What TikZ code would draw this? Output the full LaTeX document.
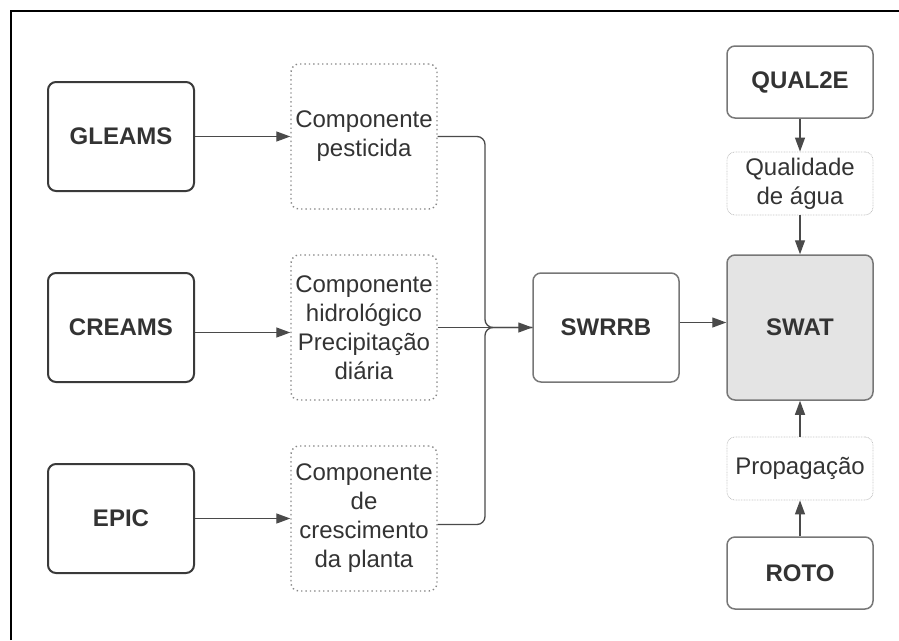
\documentclass[tikz,border=0pt]{standalone}
\usepackage{fontspec}
\setmainfont{Liberation Sans}
\usetikzlibrary{arrows.meta}
\definecolor{txtc}{HTML}{333333}
\definecolor{darkc}{HTML}{3A3A3A}
\definecolor{midc}{HTML}{777777}
\definecolor{dotc}{HTML}{888888}
\definecolor{lightc}{HTML}{C4C4C4}
\definecolor{swatc}{HTML}{E4E4E4}
\definecolor{edgec}{HTML}{4A4A4A}
\tikzset{
    modelo/.style = {rectangle, rounded corners=8pt, line width=2pt, draw=darkc, minimum width=146pt, minimum height=109pt, inner sep=0pt, align=center, text=txtc, font=\bfseries},
    modelor/.style = {modelo, line width=1.5pt, draw=midc},
    compo/.style = {rectangle, rounded corners=8pt, line width=1.4pt, draw=dotc, dash pattern=on 1.4pt off 3pt, minimum width=146pt, minimum height=145pt, inner sep=0pt, align=center, text=txtc},
    compol/.style = {compo, line width=0.8pt, draw=lightc, dash pattern=on 0.8pt off 0.8pt, minimum height=63pt},
    edgen/.style = {-{Triangle[length=14pt,width=10pt]}, line width=1.3pt, draw=edgec},
    edgem/.style = {line width=1.3pt, draw=edgec, rounded corners=8pt},
    every picture/.style={font issue=\fontsize{24}{29}},
    font issue/.style={execute at begin picture={#1\selectfont}}
}
\begin{document}
\begin{tikzpicture}[x=1pt,y=-1pt]
\useasboundingbox (0,0) rectangle (899,640);
\draw[line width=2pt,black] (11,640) -- (11,11) -- (899,11);
%
\node[modelo] at (121,136.5) (gleams) {GLEAMS};
\node[modelo] at (121,327.5) (creams) {CREAMS};
\node[modelo] at (121,518.5) (epic) {EPIC};
\node[compo] at (364,136.5) (pest) {Componente\\pesticida};
\node[compo] at (364,327.5) (hidro) {Componente\\hidrológico\\Precipitação\\diária};
\node[compo] at (364,518.5) (cresc) {Componente\\de\\crescimento\\da planta};
\node[modelor] at (606,327.5) (swrrb) {SWRRB};
\node[modelor, fill=swatc, minimum height=145pt] at (800,327.5) (swat) {SWAT};
\node[modelor, minimum height=72pt] at (800,82) (qual) {QUAL2E};
\node[compol] at (800,183.5) (qualag) {Qualidade\\de água};
\node[compol] at (800,468.5) (prop) {Propagação};
\node[modelor, minimum height=72pt] at (800,573) (roto) {ROTO};
%
\draw[edgen] (gleams) -- (pest);
\draw[edgen] ([yshift=-5pt]creams.east) -- ([yshift=-5pt]hidro.west);
\draw[edgen] (epic) -- (cresc);
\draw[edgem] (pest.east) -| (485,327.5) -- (swrrb.west);
\draw[edgem] ([yshift=-6pt]cresc.east) -| (485,327.5) -- (swrrb.west);
\draw[edgen] (hidro) -- (swrrb);
\draw[edgen] ([yshift=5pt]swrrb.east) -- ([yshift=5pt]swat.west);
\draw[edgen] (qual) -- (qualag);
\draw[edgen] (qualag) -- (swat);
\draw[edgen] (roto) -- (prop);
\draw[edgen] (prop) -- (swat);
\end{tikzpicture}
\end{document}
